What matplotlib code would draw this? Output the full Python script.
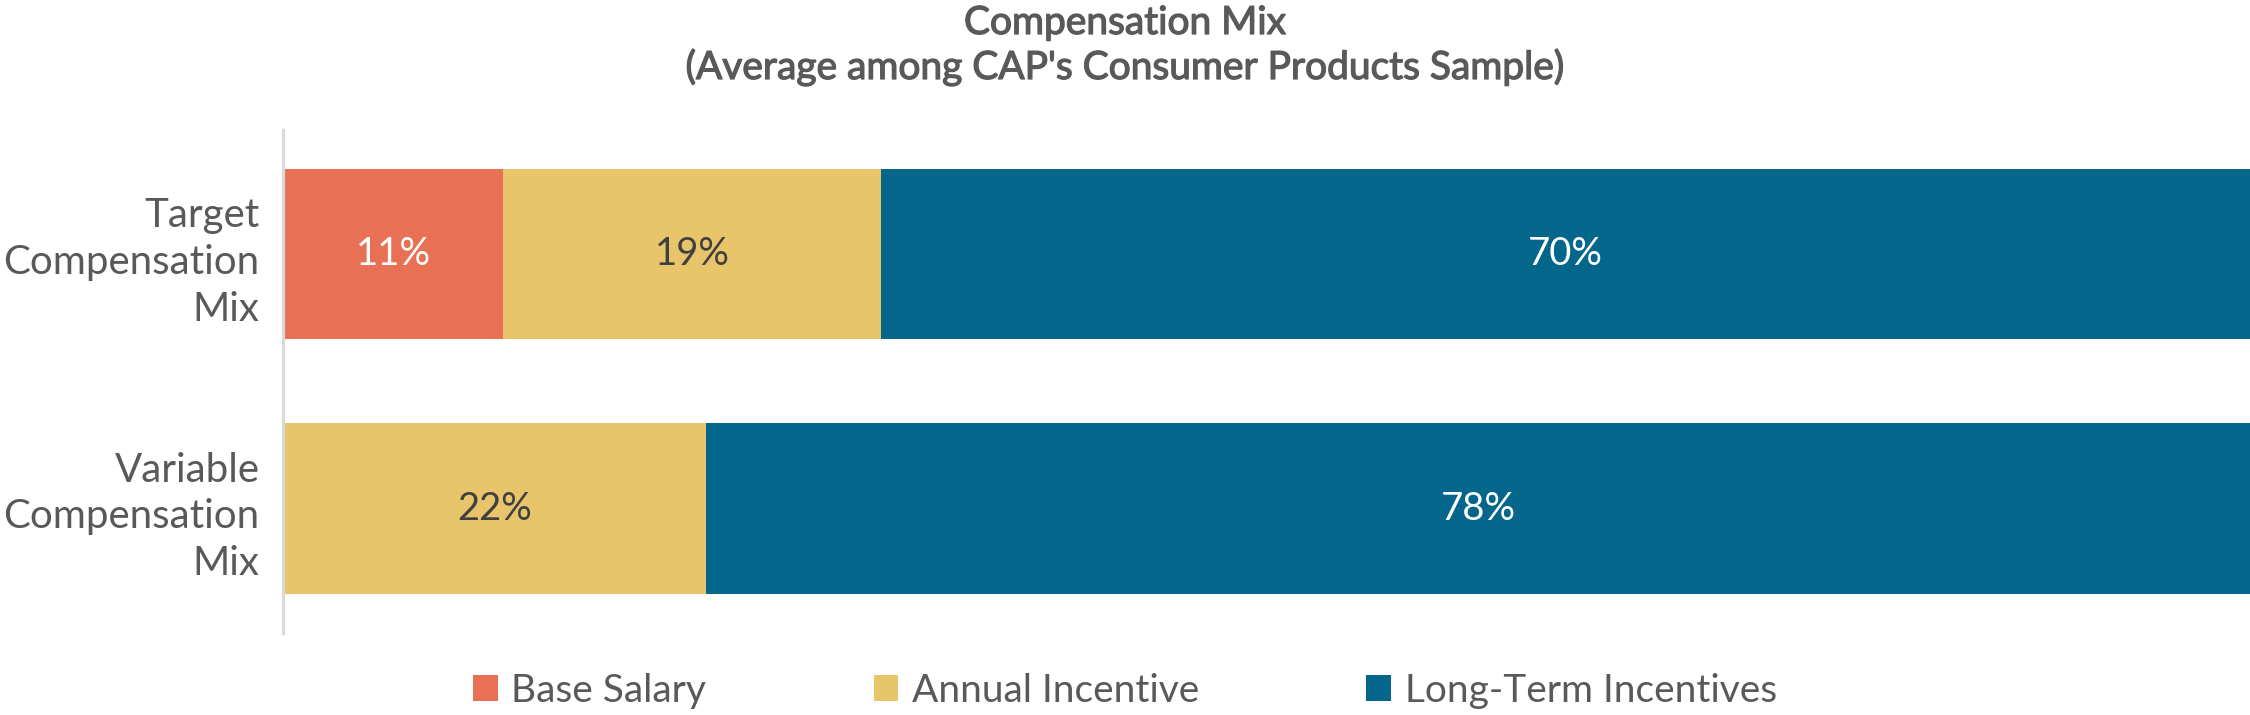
import matplotlib
matplotlib.use("Agg")
import matplotlib.pyplot as plt
import matplotlib.patheffects as pe
import numpy as np
from matplotlib.patches import Patch

plt.rcParams['font.family'] = ['Lato', 'DejaVu Sans']

categories = ["Target\nCompensation\nMix", "Variable\nCompensation\nMix"]
series_names = ["Base Salary", "Annual Incentive", "Long-Term Incentives"]
base_salary = [11.2, 0.0]
annual_incentive = [19.2, 21.5]
long_term = [69.6, 78.5]
label_base = ["11%", ""]
label_annual = ["19%", "22%"]
label_lti = ["70%", "78%"]
colors = ["#E87055", "#E8C46B", "#05668B"]
label_colors = ["white", "#404040", "white"]
title_line1 = "Compensation Mix"
title_line2 = "(Average among CAP's Consumer Products Sample)"

TEXT = "#595959"
fig = plt.figure(figsize=(22.5, 7.15), dpi=100)
ax = fig.add_axes([283/2250, 82/715, 1 - 283/2250, 503/715])

y = np.arange(len(categories))
series = [base_salary, annual_incentive, long_term]
labels = [label_base, label_annual, label_lti]
left = np.zeros(len(categories))
for vals, labs, col, lcol in zip(series, labels, colors, label_colors):
    vals = np.array(vals)
    ax.barh(y, vals, left=left, height=0.67, color=col, edgecolor='none')
    for i, (v, l) in enumerate(zip(vals, labs)):
        if v > 0 and l:
            ax.text(left[i] + v / 2, y[i], l, ha='center', va='center',
                    fontsize=27.5, color=lcol)
    left = left + vals

ax.set_xlim(0, 100)
ax.set_ylim(1.489, -0.487)
ax.set_yticks(y)
ax.set_yticklabels(categories, fontsize=29, color=TEXT, ha='right', linespacing=1.33)
ax.tick_params(axis='y', length=0, pad=17)
ax.set_xticks([])
for s in ['top', 'right', 'bottom']:
    ax.spines[s].set_visible(False)
ax.spines['left'].set_color('#D9D9D9')
ax.spines['left'].set_linewidth(2.3)

thick = [pe.withStroke(linewidth=0.9, foreground=TEXT)]
fig.text(0.5, 1 - 34/715, title_line1, ha='center', va='baseline',
         fontsize=28, color=TEXT, path_effects=thick)
fig.text(0.5, 1 - 79/715, title_line2, ha='center', va='baseline',
         fontsize=28, color=TEXT, path_effects=thick)

handles = [Patch(facecolor=c, edgecolor='none') for c in colors]
fig.legend(handles, series_names, loc='center', bbox_to_anchor=(0.5, 1 - 691/715),
           ncol=3, frameon=False, fontsize=28, labelcolor=TEXT,
           handlelength=0.64, handleheight=0.64, handletextpad=0.35,
           columnspacing=4.3, borderpad=0, borderaxespad=0)

fig.savefig("out.png", dpi=100)
